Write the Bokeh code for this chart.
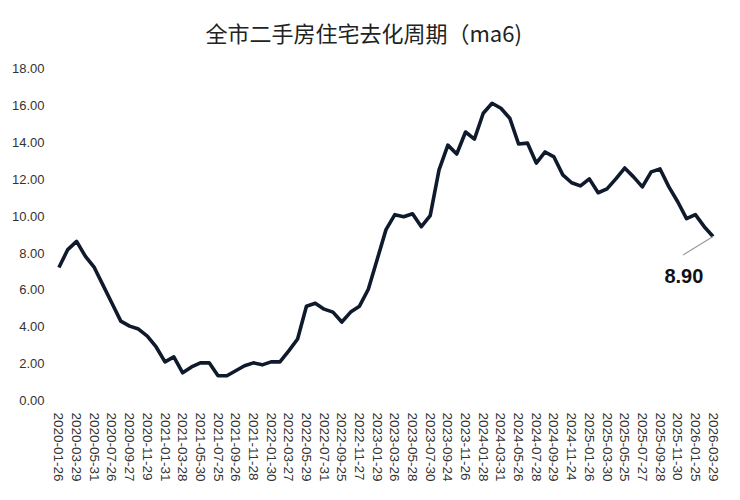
from bokeh.plotting import figure
from bokeh.models import Range1d, FixedTicker, PrintfTickFormatter
from bokeh.core.properties import value
from bokeh.embed import file_html
from bokeh.resources import INLINE

title_text = "全市二手房住宅去化周期（ma6)"

tick_dates = [
    "2020-01-26", "2020-03-29", "2020-05-31", "2020-07-26", "2020-09-27", "2020-11-29",
    "2021-01-31", "2021-03-28", "2021-05-30", "2021-07-25", "2021-09-26", "2021-11-28",
    "2022-01-30", "2022-03-27", "2022-05-29", "2022-07-31", "2022-09-25", "2022-11-27",
    "2023-01-29", "2023-03-26", "2023-05-28", "2023-07-30", "2023-09-24", "2023-11-26",
    "2024-01-28", "2024-03-31", "2024-05-26", "2024-07-28", "2024-09-29", "2024-11-24",
    "2025-01-26", "2025-03-30", "2025-05-25", "2025-07-27", "2025-09-28", "2025-11-30",
    "2026-01-25", "2026-03-29",
]

cycle_values = [
    7.22, 8.19, 8.63, 7.82, 7.22, 6.25, 5.28, 4.31, 4.04, 3.88,
    3.50, 2.91, 2.10, 2.37, 1.51, 1.83, 2.05, 2.05, 1.35, 1.35,
    1.62, 1.89, 2.05, 1.94, 2.10, 2.10, 2.70, 3.34, 5.12, 5.28,
    4.96, 4.80, 4.26, 4.80, 5.12, 6.04, 7.65, 9.27, 10.08, 9.97,
    10.13, 9.43, 10.03, 12.51, 13.85, 13.37, 14.56, 14.18, 15.58, 16.12,
    15.85, 15.31, 13.91, 13.96, 12.88, 13.48, 13.21, 12.24, 11.81, 11.64,
    12.02, 11.27, 11.48, 12.02, 12.61, 12.13, 11.59, 12.40, 12.56, 11.59,
    10.78, 9.87, 10.08, 9.43, 8.90,
]

y_ticks = [0, 2, 4, 6, 8, 10, 12, 14, 16, 18]

last_label = "8.90"

x_idx = list(range(len(cycle_values)))
tick_pos = x_idx[::2]

p = figure(
    width=724, height=484,
    output_backend="svg", toolbar_location=None,
    x_range=Range1d(-0.5, len(cycle_values) - 0.5),
    y_range=Range1d(-0.1, 18.6),
    min_border_left=54, min_border_right=7, min_border_top=57, min_border_bottom=79,
    title=title_text,
)
p.outline_line_color = None
p.background_fill_color = "white"
p.border_fill_color = "white"
p.xgrid.grid_line_color = None
p.ygrid.grid_line_color = None

p.title.align = "left"
p.title.offset = 151
p.title.text_font = "Noto Sans CJK SC"
p.title.text_font_size = "22px"
p.title.text_font_style = "normal"
p.title.text_color = "#222222"
p.title.standoff = 20

# y axis
p.yaxis.ticker = FixedTicker(ticks=y_ticks)
p.yaxis.formatter = PrintfTickFormatter(format="%.2f")
p.yaxis.axis_line_color = None
p.yaxis.major_tick_line_color = None
p.yaxis.minor_tick_line_color = None
p.yaxis.major_label_standoff = 4
p.yaxis.major_label_text_font = "Liberation Sans"
p.yaxis.major_label_text_font_size = "13px"
p.yaxis.major_label_text_color = "#333333"

# x axis
p.xaxis.ticker = FixedTicker(ticks=tick_pos)
p.xaxis.major_label_overrides = {i: d for i, d in zip(tick_pos, tick_dates)}
p.xaxis.major_label_orientation = "vertical"
p.xaxis.axis_line_color = None
p.xaxis.major_tick_line_color = None
p.xaxis.minor_tick_line_color = None
p.xaxis.major_label_standoff = 4
p.xaxis.major_label_text_font = "Liberation Sans"
p.xaxis.major_label_text_font_size = "13.5px"
p.xaxis.major_label_text_color = "#333333"

p.line(x_idx, cycle_values, line_color="#0f1a2c", line_width=3.6, line_join="round")

# annotation of last value
lx = x_idx[-1]
ly = cycle_values[-1]
p.segment(x0=[lx], y0=[ly], x1=[lx - 3.4], y1=[ly - 1.0], line_color="#9a9a9a", line_width=1.2)
p.text(x=[lx - 3.3], y=[ly - 2.15], text=[last_label], text_align="center", text_baseline="middle",
       text_font=value("Liberation Sans"), text_font_size="20px", text_font_style="bold",
       text_color="#111111")

open("out.html", "w").write(file_html(p, INLINE))
